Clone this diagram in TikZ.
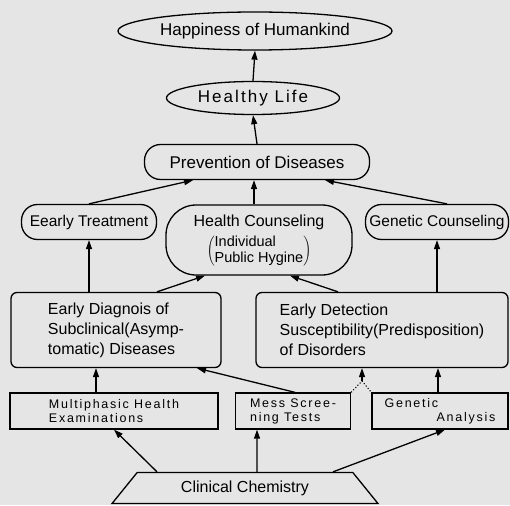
\documentclass[tikz,border=0pt]{standalone}
\usepackage{fontspec}
\setmainfont{Liberation Sans}
\newfontfamily\spacedfont[LetterSpace=14]{Liberation Sans}
\newfontfamily\lifefont[LetterSpace=12]{Liberation Sans}
\usepackage{tikz}
\usetikzlibrary{shapes.geometric, arrows.meta, positioning, calc}
\definecolor{paper}{RGB}{229,229,229}

\begin{document}
\begin{tikzpicture}[x=1pt, y=-1pt,
    oval/.style={ellipse, draw, line width=1.3pt, inner sep=0pt, font=\fontsize{17}{20}\selectfont},
    pill/.style={rectangle, draw, line width=1.3pt, rounded corners=16pt, minimum height=35pt, inner sep=0pt, font=\fontsize{15.5}{19}\selectfont},
    block/.style={rectangle, draw, line width=1.3pt, rounded corners=6pt, minimum height=75pt, inner sep=0pt, align=left, font=\fontsize{16}{20}\selectfont},
    flat/.style={rectangle, draw, line width=1.3pt, minimum height=36pt, inner sep=0pt, align=left, font=\spacedfont\fontsize{12.5}{14}\selectfont},
    arrow/.style={line width=1.3pt, -{Triangle[length=9pt,width=6pt]}}]
    
    \useasboundingbox (0,0) rectangle (510,505);
    \fill[paper] (0,0) rectangle (510,505);
    
    \node[oval, minimum width=274pt, minimum height=38pt] (hap) at (255,31) {Happiness of Humankind};
    \node[oval, minimum width=173pt, minimum height=33pt, font=\lifefont\fontsize{17}{20}\selectfont] (life) at (253,98) {Healthy Life};
    \node[pill, minimum width=225pt, font=\fontsize{17}{20}\selectfont] (prev) at (257,162) {Prevention of Diseases};
    
    \node[pill, minimum width=135pt] (treat) at (89,222) {Eearly Treatment};
    \node[rectangle, draw, line width=1.3pt, rounded corners=30pt, minimum width=186pt, minimum height=70pt, inner sep=0pt, font=\fontsize{16}{19}\selectfont] (hcoun) at (259,240)
        {\begin{tabular}{@{}c@{}}Health Counseling\\[3pt]
         $\left(\vcenter{\hbox{\fontsize{14.5}{16}\selectfont\begin{tabular}{@{}l@{}}Individual\\Public Hygine\end{tabular}}}\right)$\end{tabular}};
    \node[pill, minimum width=143pt] (gcoun) at (437,222) {Genetic Counseling};
    
    \node[block, minimum width=210pt] (diag) at (116,330) {Early Diagnois of\\Subclinical(Asymp-\\tomatic) Diseases};
    \node[block, minimum width=252pt] (detect) at (382,330) {Early Detection\\Susceptibility(Predisposition)\\of Disorders};
    
    \node[flat, minimum width=208pt] (multi) at (114,411) {Multiphasic Health\\Examinations};
    \node[flat, minimum width=115pt] (mass) at (293,411) {Mess Scree-\\ning Tests};
    \node[flat, minimum width=136pt] (ganal) at (440,411) {Genetic\\\hspace*{52pt}Analysis};
    
    \node[trapezium, draw, line width=1.3pt, trapezium left angle=45, trapezium right angle=45, trapezium stretches=true, minimum width=266pt, minimum height=31pt, inner sep=0pt, font=\fontsize{16}{19}\selectfont] (chem) at (245,488) {Clinical Chemistry};
    
    \coordinate (join) at (362,381);
    
    % upper levels
    \draw[arrow] (life.north) -- (hap.south);
    \draw[arrow] (prev.north) -- (life.south);
    \draw[arrow] (treat.north) -- ([xshift=-64pt]prev.south);
    \draw[arrow] (hcoun.north -| 254,0) -- (prev.south -| 254,0);
    \draw[arrow] ([xshift=10pt]gcoun.north) -- ([xshift=68pt]prev.south);
    
    % middle level
    \draw[arrow] (diag.north -| treat.south) -- (treat.south);
    \draw[arrow] ([xshift=41pt]diag.north) -- ([xshift=-54pt]hcoun.south);
    \draw[arrow] ([xshift=-44pt]detect.north) -- ([xshift=31pt]hcoun.south);
    \draw[arrow] (detect.north -| gcoun.south) -- (gcoun.south);
    
    % lower level
    \draw[arrow] ([xshift=-18pt]multi.north) -- ([xshift=-20pt]diag.south);
    \draw[arrow] ([xshift=2pt]mass.north) -- ([xshift=81pt]diag.south);
    \draw[dotted, line width=1.1pt] (mass.north east) -- (join) -- (ganal.north west);
    \draw[arrow] (join) -- (join |- detect.south);
    \draw[arrow] ([xshift=-2pt]ganal.north) -- ([xshift=-2pt]ganal.north |- detect.south);
    
    % clinical chemistry
    \draw[arrow] ([xshift=-88pt]chem.north) -- (multi.south);
    \draw[arrow] ([xshift=12pt]chem.north) -- ([xshift=-36pt]mass.south);
    \draw[arrow] ([xshift=88pt]chem.north) -- ([xshift=5pt]ganal.south);
\end{tikzpicture}
\end{document}
